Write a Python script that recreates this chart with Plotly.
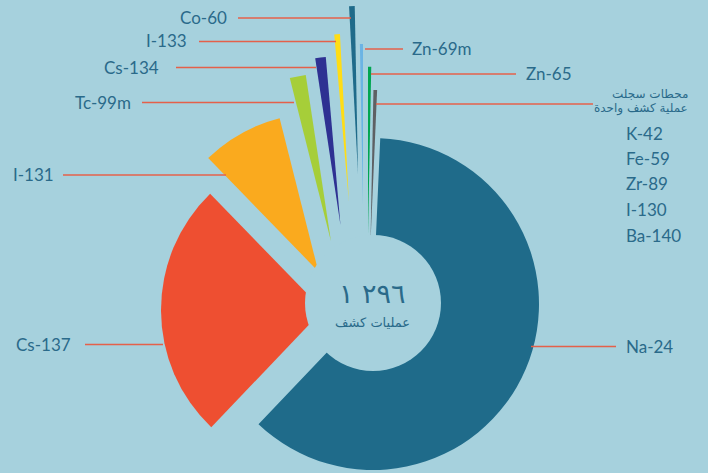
import plotly.graph_objects as go

# ---------------- data ----------------
nuclides = ["Na-24", "Cs-137", "I-131", "Tc-99m", "Cs-134", "I-133", "Co-60", "Zn-69m", "Zn-65", "أخرى"]
counts = [796, 332, 108, 20, 13, 7, 7, 4, 4, 5]
single_detection = ["K-42", "Fe-59", "Zr-89", "I-130", "Ba-140"]
total_label = "\u202d١ ٢٩٦\u202c"
total_caption = "عمليات كشف"
others_caption = ["محطات سجلت", "عملية كشف واحدة"]

# ---------------- styles / layout ----------------
W, H = 708, 473
BG = "#A6D1DD"
TXT = "#2A6A8A"
LINE = "#E4604A"
colors = ["#1F6B8A", "#EE4F31", "#FAAA1E", "#A6CE39", "#2E3192",
          "#FFDD15", "#1F6B8A", "#6BB4E4", "#00A651", "#5E6064"]
# exploded position (apex x, apex y, radius) of every slice, in pixels
slice_pos = [(373, 304, 166), (323, 310, 162), (318.3, 271.4, 158), (330.9, 241, 168),
             (340.5, 225.3, 169), (348.9, 201.8, 168), (358, 174, 168), (363, 205, 161),
             (368, 234.7, 168), (370.5, 241.9, 152)]
hole_pos = (373, 303, 68)
ROT = 2.5

# label layout: text, line x0, line x1, line y, text x, side
labels = [
    ("Co-60", 238, 351, 18, 229, "right"),
    ("I-133", 199, 336, 41.5, 189, "right"),
    ("Cs-134", 176, 316, 67.5, 161, "right"),
    ("Tc-99m", 142, 294, 102.5, 133, "right"),
    ("I-131", 63, 226, 175, 56, "right"),
    ("Cs-137", 85, 163, 344.5, 73, "right"),
    ("Na-24", 531, 616, 346.5, 624, "left"),
    ("Zn-69m", 365, 403, 49, 410, "left"),
    ("Zn-65", 371, 516, 74, 524, "left"),
    (None, 376, 593, 104, None, None),
]


def dom(cx, cy, r):
    return dict(x=[(cx - r) / W, (cx + r) / W],
                y=[max(0, 1 - (cy + r) / H), min(1, 1 - (cy - r) / H)])


fig = go.Figure()
for i, (cx, cy, r) in enumerate(slice_pos):
    cols = ["rgba(0,0,0,0)"] * len(counts)
    cols[i] = colors[i]
    fig.add_trace(go.Pie(
        labels=nuclides, values=counts, sort=False, direction="clockwise",
        rotation=ROT, domain=dom(cx, cy, r), hole=0,
        marker=dict(colors=cols, line=dict(width=0)),
        textinfo="none", hoverinfo="skip", showlegend=False,
    ))

# central hole
fig.add_trace(go.Pie(values=[1], labels=[""], domain=dom(*hole_pos), sort=False,
                     marker=dict(colors=[BG], line=dict(width=0)),
                     textinfo="none", hoverinfo="skip", showlegend=False))

shapes = []
annotations = []
FONT = "Lato, 'Noto Sans', 'DejaVu Sans', sans-serif"
for text, x0, x1, y, tx, side in labels:
    shapes.append(dict(type="line", xref="paper", yref="paper",
                       x0=x0 / W, x1=x1 / W, y0=1 - y / H, y1=1 - y / H,
                       line=dict(color=LINE, width=1.6)))
    if text:
        annotations.append(dict(text=text, x=tx / W, y=1 - (y - 0.5) / H, xref="paper", yref="paper",
                                xanchor=side, yanchor="middle", showarrow=False,
                                font=dict(family=FONT, size=17, color=TXT)))

for k, name in enumerate(single_detection):
    annotations.append(dict(text=name, x=624 / W, y=1 - (133 + 25.5 * k) / H, xref="paper", yref="paper",
                            xanchor="left", yanchor="middle", showarrow=False,
                            font=dict(family=FONT, size=17, color=TXT)))

annotations.append(dict(text=others_caption[0], x=690 / W, y=1 - 94 / H, xref="paper", yref="paper",
                        xanchor="right", yanchor="middle", showarrow=False,
                        font=dict(family="'DejaVu Sans', sans-serif", size=12, color=TXT)))
annotations.append(dict(text=others_caption[1], x=690 / W, y=1 - 109 / H, xref="paper", yref="paper",
                        xanchor="right", yanchor="middle", showarrow=False,
                        font=dict(family="'DejaVu Sans', sans-serif", size=12, color=TXT)))

annotations.append(dict(text=total_label, x=372 / W, y=1 - 293 / H, xref="paper", yref="paper",
                        xanchor="center", yanchor="middle", showarrow=False,
                        font=dict(family="'DejaVu Sans', sans-serif", size=27, color=TXT)))
annotations.append(dict(text=total_caption, x=372 / W, y=1 - 322 / H, xref="paper", yref="paper",
                        xanchor="center", yanchor="middle", showarrow=False,
                        font=dict(family="'DejaVu Sans', sans-serif", size=13, color=TXT)))

fig.update_layout(width=W, height=H, autosize=False,
                  margin=dict(l=0, r=0, t=0, b=0, pad=0),
                  paper_bgcolor=BG, plot_bgcolor=BG, showlegend=False,
                  shapes=shapes, annotations=annotations)

fig.write_html("out.html")
